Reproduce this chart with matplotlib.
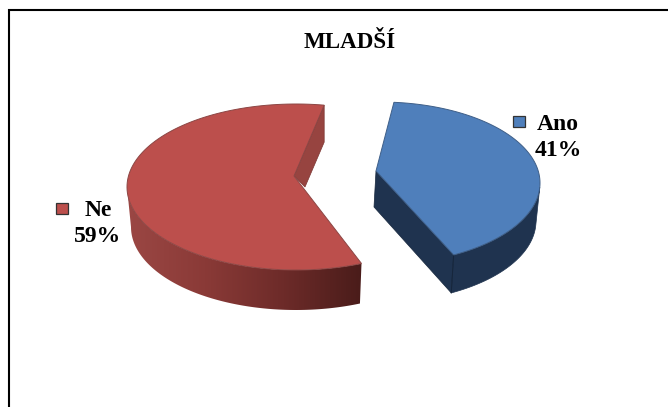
import numpy as np
import matplotlib
matplotlib.use('Agg')
import matplotlib.pyplot as plt
from matplotlib.colors import LinearSegmentedColormap
from matplotlib.patches import Polygon

title = 'MLADŠÍ'
categories = ['Ano', 'Ne']
values = [41, 59]
top_colors = ['#4f7fbb', '#bc4f4c']

plt.rcParams['font.family'] = ['Liberation Serif', 'DejaVu Serif']

fig = plt.figure(figsize=(6.68, 4.07), dpi=100)
ax = fig.add_axes([0, 0, 1, 1])
ax.set_xlim(0, 668)
ax.set_ylim(407, 0)
ax.axis('off')

# frame, only left and top are visible in the picture
ax.plot([9, 9, 668], [407, 10, 10], color='black', lw=1.5, solid_joinstyle='miter')


def arc(cx, cy, rx, ry, a1, a2, n=120):
    t = np.radians(np.linspace(a1, a2, n))
    return np.column_stack([cx + rx * np.cos(t), cy - ry * np.sin(t)])


# slice sweeps come from the values, clockwise; each slice is turned a bit by the perspective
blue_a1 = 85
blue_a2 = blue_a1 - values[0] * 3.6
red_a1 = -67.2
red_a2 = red_a1 - values[1] * 3.6

# blue slice
b_apex = np.array([376, 171])
b_top = arc(380, 183, 160, 81, blue_a1, blue_a2)
b_low = arc(379, 221, 157, 81, blue_a1, blue_a2)
# rim, only from the right edge to the front corner
vis_top = arc(380, 183, 160, 81, -3, blue_a2)
vis_low = arc(379, 221, 157, 81, -3, blue_a2)
ax.add_patch(Polygon(np.vstack([vis_top, vis_low[::-1]]), fc='#1f334f', ec='#1f334f', lw=0.5, zorder=2))
b_corner = b_top[-1]
b_corner_low = b_low[-1]
ax.add_patch(Polygon([b_apex, b_corner, b_corner_low, b_apex + [-2, 36]],
                     fc='#1f334f', ec='#16263c', lw=0.5, zorder=2))
ax.plot([b_corner[0], b_corner_low[0]], [b_corner[1], b_corner_low[1]], color='#16263c', lw=0.7, zorder=3)
ax.add_patch(Polygon(np.vstack([b_apex, b_top]), fc=top_colors[0], ec='#3f5f88', lw=0.7, zorder=4))

# red slice
r_apex = np.array([294, 176])
r_top = arc(296, 187, 169, 83, red_a1, red_a2)
r_vis_top = arc(296, 187, 169, 83, red_a1, -180)
r_vis_low = arc(296, 227, 165, 83, red_a1, -180)
rim = Polygon(np.vstack([r_vis_top, r_vis_low[::-1]]), fc='none', ec='none', zorder=2)
ax.add_patch(rim)
rim_cmap = LinearSegmentedColormap.from_list('rim', ['#4a1c1a', '#6d2b29', '#8a3a37', '#9b4744'])
grad = np.linspace(0, 1, 256).reshape(1, -1)
im = ax.imshow(grad, extent=[362, 127, 320, 180], cmap=rim_cmap, aspect='auto', zorder=2)
im.set_clip_path(rim)
ax.set_xlim(0, 668)
ax.set_ylim(407, 0)

# inner wall seen through the gap
r_corner = r_top[-1]
ax.add_patch(Polygon([r_apex, r_corner, r_corner + [0, 37], [305, 187]],
                     fc='#974440', ec='#7c3633', lw=0.5, zorder=3))
ax.add_patch(Polygon(np.vstack([r_apex, r_top]), fc=top_colors[1], ec='#8c4644', lw=0.7, zorder=4))

# title and labels
ax.text(350, 42, title, fontsize=16.6, fontweight='bold', ha='center', va='center', color='black')

label_pos = [(557.5, 124), (98, 210)]
pct_pos = [(558, 150), (98, 237)]
box_pos = [(513, 116), (56, 203)]
for name, val, col, lp, pp, bp in zip(categories, values, top_colors, label_pos, pct_pos, box_pos):
    ax.text(lp[0], lp[1], name, fontsize=17, fontweight='bold', ha='center', va='center', color='black')
    ax.text(pp[0], pp[1], str(val) + '%', fontsize=17, fontweight='bold', ha='center', va='center', color='black')
    ax.add_patch(plt.Rectangle(bp, 12, 11, fc=col, ec='#333333', lw=0.9, zorder=5))

fig.savefig('out.png', dpi=100)
